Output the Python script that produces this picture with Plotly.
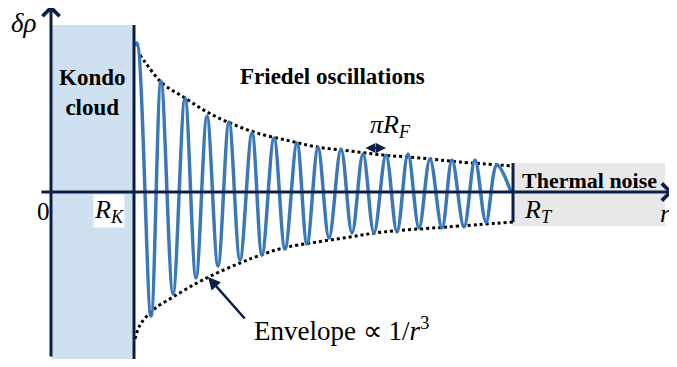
import plotly.graph_objects as go

# Friedel oscillation extremes (r, delta rho in arbitrary units)
peak_r = [86, 110, 134, 156, 178, 201, 223, 246, 267, 290, 312, 335, 357, 379, 401, 424, 446]
peak_v = [149, 111, 94, 76, 70, 59, 54, 49, 44, 43, 38, 37, 38, 33, 32, 32, 27]
trough_r = [100, 122, 145, 167, 189, 211, 234, 256, 278, 301, 323, 346, 368, 391, 413, 435]
trough_v = [-124, -102, -86, -74, -68, -63, -57, -52, -46, -41, -41, -40, -36, -36, -35, -30]
start_pt = (84, 146)
end_pt = (460, 0)

# dotted envelopes
env_up_r = [89, 94, 111, 134, 156, 179, 206, 239, 266, 299, 332, 369, 409, 462]
env_up_v = [137, 130, 109, 94, 80, 69, 59, 51, 45, 41, 37, 34, 30, 26]
env_lo_r = [84, 89, 102, 122, 146, 166, 189, 207, 232, 266, 299, 332, 396, 462]
env_lo_v = [-147, -133, -118, -105, -91, -81, -71, -64, -56, -50, -45, -40, -35, -30]

R_K = 83
R_T = 462

NAVY = '#0c1f4a'
BLUE = '#3a78b8'
SERIF = 'Liberation Serif'

# interleave peaks and troughs into one curve
osc_r = [start_pt[0]]
osc_v = [start_pt[1]]
for i in range(len(peak_r)):
    osc_r.append(peak_r[i])
    osc_v.append(peak_v[i])
    if i < len(trough_r):
        osc_r.append(trough_r[i])
        osc_v.append(trough_v[i])
osc_r.append(end_pt[0])
osc_v.append(end_pt[1])

fig = go.Figure()

fig.add_trace(go.Scatter(x=env_up_r, y=env_up_v, mode='lines', line_shape='spline',
                         line=dict(color='black', width=3, dash='3px,3px'), hoverinfo='skip'))
fig.add_trace(go.Scatter(x=env_lo_r, y=env_lo_v, mode='lines', line_shape='spline',
                         line=dict(color='black', width=3, dash='3px,3px'), hoverinfo='skip'))
fig.add_trace(go.Scatter(x=osc_r, y=osc_v, mode='lines', line_shape='spline',
                         line=dict(color=BLUE, width=3.5), hoverinfo='skip'))

# Kondo cloud and thermal noise regions
fig.add_shape(type='rect', x0=0, x1=R_K, y0=-167, y1=167, layer='below',
              fillcolor='#cfe0f0', line=dict(width=0))
fig.add_shape(type='rect', x0=R_T - 1, x1=614, y0=-34, y1=29, layer='below',
              fillcolor='#e8e8e8', line=dict(width=0))

# structural lines
fig.add_shape(type='line', x0=R_K, x1=R_K, y0=-167, y1=167, layer='above',
              line=dict(color=NAVY, width=3))
fig.add_shape(type='line', x0=R_T, x1=R_T, y0=-30, y1=29, layer='above',
              line=dict(color=NAVY, width=3))

# axes with arrows
fig.add_annotation(x=0, y=187, ax=0, ay=-166, xref='x', yref='y', axref='x', ayref='y',
                   showarrow=True, arrowhead=4, arrowsize=1.1, arrowwidth=3, arrowcolor=NAVY, text='')
fig.add_annotation(x=622, y=0, ax=-11, ay=0, xref='x', yref='y', axref='x', ayref='y',
                   showarrow=True, arrowhead=4, arrowsize=1.1, arrowwidth=3, arrowcolor=NAVY, text='')

# piR_F double arrow
fig.add_annotation(x=335, y=44, ax=313, ay=44, xref='x', yref='y', axref='x', ayref='y',
                   showarrow=True, arrowhead=2, arrowside='end+start', arrowsize=1,
                   arrowwidth=2, arrowcolor=NAVY, text='')

# envelope pointer
fig.add_annotation(x=157, y=-85, ax=195, ay=-128, xref='x', yref='y', axref='x', ayref='y',
                   showarrow=True, arrowhead=2, arrowsize=1, arrowwidth=2.5,
                   arrowcolor=NAVY, text='')

def label(txt, x, y, size, **kw):
    fig.add_annotation(x=x, y=y, xref='x', yref='y', text=txt, showarrow=False,
                       font=dict(family=SERIF, size=size, color='black'), **kw)

label('<i>δρ</i>', -27, 169, 27)
label('0', -8, -19, 25)
label('<i>R</i><sub><i>K</i></sub>', 58, -19, 26, bgcolor='white', borderpad=0)
label('<i>R</i><sub><i>T</i></sub>', 487, -19, 26)
label('<i>r</i>', 607, -21, 26, xanchor='left')
label('<i>πR</i><sub><i>F</i></sub>', 339, 66, 26)
label('<b>Kondo</b><br><b>cloud</b>', 41, 100, 23)
label('<b>Friedel oscillations</b>', 281, 116, 23)
label('<b>Thermal noise</b>', 538, 12, 22)
label('Envelope ∝ 1/<i>r</i><sup>3</sup>', 201, -137, 27, xanchor='left')

# the page adds an 8px body margin, so shift the ranges to keep the drawing in place
fig.update_layout(
    width=677, height=367,
    margin=dict(l=0, r=0, t=0, b=0),
    paper_bgcolor='white', plot_bgcolor='white',
    showlegend=False,
    xaxis=dict(visible=False, range=[-43, 634], fixedrange=True),
    yaxis=dict(visible=False, range=[-183, 184], fixedrange=True),
)

fig.write_html("out.html")
